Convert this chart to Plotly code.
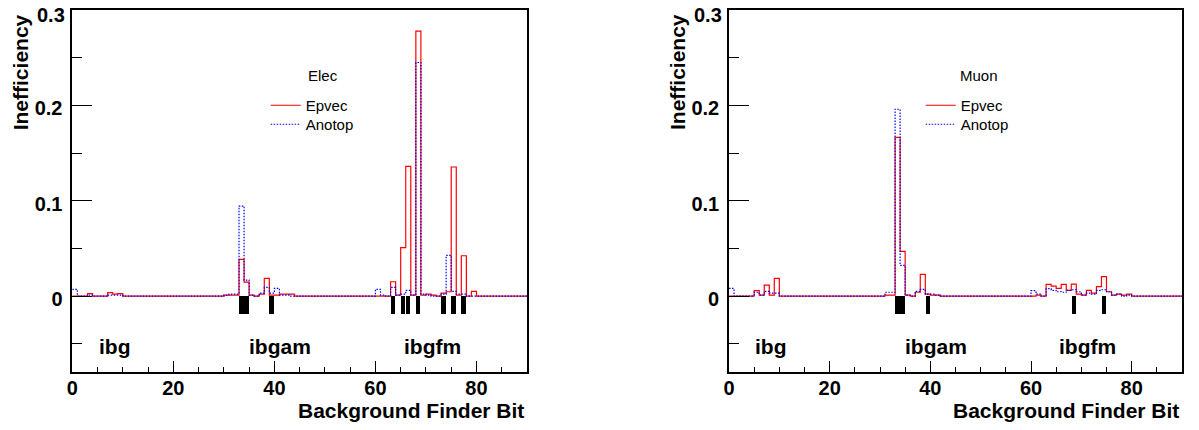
import numpy as np
import plotly.graph_objects as go

# page body has an 8px margin; figure sized to fit inside the 1199x430 window
OFF = 8
W, H = 1199 - 2 * OFF, 430 - 2 * OFF
n_bins = 90

# ---- Data (bin index -> inefficiency), all other bins are zero ----
elec_bins   = [0, 3, 7, 8, 9, 30, 31, 32, 33, 34, 35, 37, 38, 39, 40, 41, 42, 43,
               60, 61, 63, 64, 65, 66, 67, 68, 69, 70, 71, 73, 74, 75, 76, 77, 79]
elec_epvec  = [0, 0.0025, 0.0035, 0.002, 0.0025, 0.001, 0.001, 0.001, 0.0385, 0.0147,
               0.001, 0.002, 0.0185, 0.001, 0.001, 0.002, 0.002, 0.002,
               0, 0, 0.015, 0.001, 0.0507, 0.136, 0.001, 0.278, 0.001, 0.002, 0.001,
               0.003, 0.0045, 0.1354, 0.001, 0.0423, 0.005]
elec_anotop = [0.007, 0.001, 0.001, 0.001, 0.001, 0.001, 0.002, 0.002, 0.0944, 0.0168,
               0.001, 0.003, 0.009, 0.003, 0.008, 0.001, 0.001, 0,
               0.007, 0.001, 0.009, 0.001, 0.002, 0.006, 0.001, 0.245, 0.002, 0.001, 0,
               0.002, 0.0427, 0.005, 0.002, 0.002, 0]

muon_bins   = [0, 5, 6, 7, 8, 9, 31, 32, 33, 34, 35, 37, 38, 39, 40, 41,
               60, 61, 63, 64, 65, 66, 67, 68, 69, 70, 71, 72, 73, 74, 75, 76, 77, 78, 79]
muon_epvec  = [0, 0.0056, 0.001, 0.0115, 0.001, 0.0185, 0.001, 0.001, 0.1665, 0.0469,
               0.001, 0.004, 0.0227, 0.002, 0.001, 0.001,
               0, 0.001, 0.0122, 0.0105, 0.008, 0.0122, 0.006, 0.0126, 0.002, 0.001,
               0.006, 0.003, 0.0098, 0.0203, 0.0045, 0.001, 0.002, 0.001, 0.002]
muon_anotop = [0.008, 0.004, 0.001, 0.005, 0.003, 0.003, 0.004, 0.004, 0.196, 0.0322,
               0.001, 0.005, 0.007, 0.002, 0.002, 0.001,
               0.0056, 0.002, 0.0077, 0.006, 0.0045, 0.004, 0.006, 0.0066, 0.0045, 0.001,
               0.003, 0.002, 0.006, 0.0066, 0.0045, 0.001, 0.002, 0, 0.001]

elec_flag_bins = [33, 34, 39, 63, 65, 66, 68, 73, 75, 77]
muon_flag_bins = [33, 34, 39, 68, 74]
flag_depth = -0.019

group_labels = ["ibg", "ibgam", "ibgfm"]
group_pos = [8.4, 41.2, 71.2]
group_y = -0.053

panel_titles = ["Elec", "Muon"]
series_names = ["Epvec", "Anotop"]
x_ticks = [0, 20, 40, 60, 80]
y_ticks = [0, 0.1, 0.2]
y_ticktext = ["0", "0.1", "0.2"]
y_top_tick, y_top_text = 0.3, "0.3"   # top label drawn as annotation to avoid edge clipping

# ---- helpers ----
def full(bins, vals):
    a = np.zeros(n_bins)
    a[np.array(bins)] = vals
    return a

edges = np.arange(n_bins + 1)

def step_xy(vals):
    return edges, np.append(vals, vals[-1])

def px(x):  # window pixel x -> paper
    return (x - OFF) / W

def py(y):  # window pixel y -> paper
    return 1 - (y - OFF) / H

FONT = "Liberation Sans, Arial, Helvetica, sans-serif"
TICKFONT = dict(family=FONT, size=20, color="black", weight="bold")

fig = go.Figure()

panels = [
    dict(x0=72.3, x1=527.0, xa="x", ya="y", legs=("legend", "legend2"), title_x=306.0, leg_x=306.7,
         data=(elec_bins, elec_epvec, elec_anotop), flags=elec_flag_bins),
    dict(x0=729.0, x1=1182.0, xa="x2", ya="y2", legs=("legend3", "legend4"), title_x=958.0, leg_x=961.7,
         data=(muon_bins, muon_epvec, muon_anotop), flags=muon_flag_bins),
]
y_top, y_bot = 10.0, 372.3

for p in panels:
    bins, ep, an = p["data"]
    ep_full = full(bins, ep)
    an_full = full(bins, an)
    fig.add_trace(go.Bar(
        x=np.array(p["flags"]) + 0.5, y=[flag_depth] * len(p["flags"]),
        width=0.9, marker=dict(color="black", line=dict(width=0)),
        xaxis=p["xa"], yaxis=p["ya"], showlegend=False, hoverinfo="skip"))
    xs, ys = step_xy(ep_full)
    fig.add_trace(go.Scatter(
        x=xs, y=ys, mode="lines", line=dict(color="red", width=1.2, shape="hv"),
        name=series_names[0], xaxis=p["xa"], yaxis=p["ya"], legend=p["legs"][0]))
    xs, ys = step_xy(an_full)
    fig.add_trace(go.Scatter(
        x=xs, y=ys, mode="lines",
        line=dict(color="blue", width=1.2, shape="hv", dash="1.5px,1.5px"),
        name=series_names[1], xaxis=p["xa"], yaxis=p["ya"], legend=p["legs"][1]))

def xaxis_style(x0, x1, anchor):
    return dict(
        domain=[px(x0), px(x1)], anchor=anchor, range=[0, 90], automargin=False,
        showline=True, linecolor="black", linewidth=1.6, mirror=True,
        ticks="inside", ticklen=12, tickwidth=1.4, tickcolor="black",
        tickmode="array", tickvals=x_ticks, ticktext=[str(v) for v in x_ticks],
        tickfont=TICKFONT, ticklabelstandoff=-3, ticklabeloverflow="allow",
        showgrid=False, zeroline=False,
        minor=dict(tickmode="linear", tick0=0, dtick=5, ticks="inside", ticklen=6,
                   tickwidth=1.4, tickcolor="black", showgrid=False),
    )

def yaxis_style(anchor):
    return dict(
        domain=[py(y_bot), py(y_top)], anchor=anchor, range=[-0.08, 0.3001], automargin=False,
        showline=True, linecolor="black", linewidth=1.6, mirror=True,
        ticks="inside", ticklen=20, tickwidth=1.4, tickcolor="black",
        tickmode="array", tickvals=y_ticks + [y_top_tick], ticktext=y_ticktext + [""],
        tickfont=TICKFONT, ticklabelstandoff=4, ticklabelshift=3, ticklabeloverflow="allow",
        showgrid=False, zeroline=False,
        minor=dict(tickmode="linear", tick0=0, dtick=0.05, ticks="inside", ticklen=10,
                   tickwidth=1.4, tickcolor="black", showgrid=False),
    )

annotations = []
for i, p in enumerate(panels):
    for lab, pos in zip(group_labels, group_pos):
        annotations.append(dict(x=pos, y=group_y, xref=p["xa"], yref=p["ya"], text=lab,
                                showarrow=False,
                                font=dict(family=FONT, size=21, color="black", weight="bold"),
                                xanchor="center", yanchor="middle"))
    # top y tick label
    annotations.append(dict(x=0, y=y_top_tick, xref=f"{p['xa']} domain", yref=p["ya"],
                            text=y_top_text, showarrow=False, xanchor="right", yanchor="middle",
                            xshift=-5, yshift=-5, font=TICKFONT))
    annotations.append(dict(x=px(p["title_x"]), y=py(75), xref="paper", yref="paper",
                            text=panel_titles[i], showarrow=False, xanchor="left", yanchor="middle",
                            font=dict(family=FONT, size=15, color="black")))
    annotations.append(dict(x=px(p["x1"] - 1), y=py(410), xref="paper", yref="paper",
                            text="Background Finder Bit", showarrow=False, xanchor="right",
                            yanchor="middle",
                            font=dict(family=FONT, size=21, color="black", weight="bold")))
    annotations.append(dict(x=px(p["x0"] - 52), y=py(12), xref="paper", yref="paper",
                            text="Inefficiency", showarrow=False, textangle=-90,
                            xanchor="center", yanchor="top",
                            font=dict(family=FONT, size=21, color="black", weight="bold")))

legend_common = dict(xanchor="left", yanchor="top", bgcolor="rgba(0,0,0,0)",
                     font=dict(family=FONT, size=15, color="black"),
                     itemwidth=30, tracegroupgap=0, borderwidth=0)

legends = {}
for p in panels:
    for k, yc in zip(p["legs"], (89, 108)):
        legends[k] = dict(x=px(p["leg_x"] - 41), y=py(yc), **legend_common)

fig.update_layout(
    width=W, height=H, margin=dict(l=0, r=0, t=0, b=0, pad=0, autoexpand=False),
    paper_bgcolor="white", plot_bgcolor="white",
    xaxis=xaxis_style(72.3, 527.0, "y"),
    yaxis=yaxis_style("x"),
    xaxis2=xaxis_style(729.0, 1182.0, "y2"),
    yaxis2=yaxis_style("x2"),
    showlegend=True,
    annotations=annotations,
    bargap=0,
    **legends,
)

fig.write_html("out.html", config={"displayModeBar": False})
